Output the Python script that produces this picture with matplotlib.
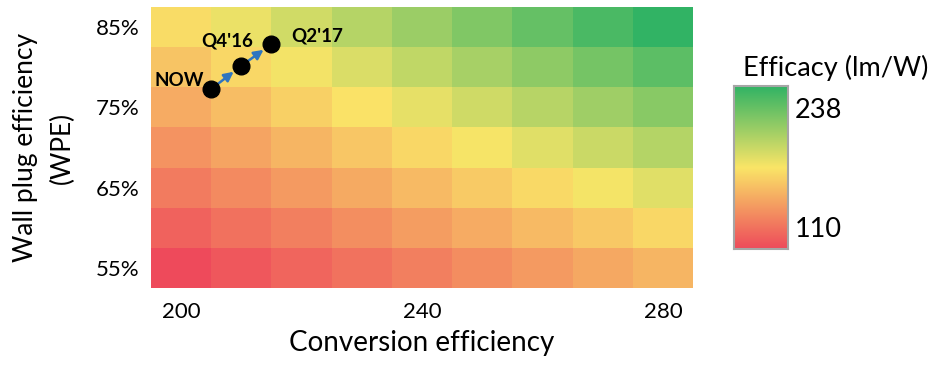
import numpy as np
import matplotlib
matplotlib.use("Agg")
import matplotlib.pyplot as plt
from matplotlib.colors import LinearSegmentedColormap, Normalize

# ── data ──────────────────────────────────────────────────────────────────
conversion = [200, 210, 220, 230, 240, 250, 260, 270, 280]   # lm/W (optical)
wpe = [55, 60, 65, 70, 75, 80, 85]                          # wall plug eff. %

# roadmap points: (conversion, WPE %)
milestones = ["NOW", "Q4'16", "Q2'17"]
ms_conv = [205, 210, 215]
ms_wpe = [77.3, 80.2, 82.9]

efficacy = np.outer(np.array(wpe) / 100.0, np.array(conversion))  # rows = WPE
eff_min, eff_max = 110, 238

# ── style ─────────────────────────────────────────────────────────────────
plt.rcParams["font.family"] = ["Lato", "DejaVu Sans"]
cmap = LinearSegmentedColormap.from_list(
    "ryg", [(0.0, "#EE4A5B"), (0.5, "#FAE567"), (1.0, "#31B364")])
norm = Normalize(eff_min, eff_max)

fig = plt.figure(figsize=(9.35, 3.66), dpi=100)
ax = fig.add_axes([0.1615, 0.214, 0.5797, 0.766])

ax.pcolormesh(conversion, wpe, efficacy, cmap=cmap, norm=norm,
              shading="nearest", edgecolors="face", linewidth=0)
ax.set_xlim(195, 285)
ax.set_ylim(52.5, 87.5)

ax.set_xticks([200, 240, 280])
ax.set_yticks([55, 65, 75, 85])
ax.set_yticklabels([f"{v}%" for v in [55, 65, 75, 85]])
ax.tick_params(length=0, labelsize=16)
ax.tick_params(axis="x", pad=10)
ax.tick_params(axis="y", pad=8)
for s in ax.spines.values():
    s.set_visible(False)

ax.set_xlabel("Conversion efficiency", fontsize=20, labelpad=6)
ax.set_ylabel("Wall plug efficiency\n(WPE)", fontsize=19, labelpad=15,
              linespacing=1.6)

# roadmap arrows and markers
for i in range(len(milestones) - 1):
    ax.annotate("", xy=(ms_conv[i + 1], ms_wpe[i + 1]),
                xytext=(ms_conv[i], ms_wpe[i]),
                arrowprops=dict(arrowstyle="-|>", color="#2F75C0", lw=1.8,
                                mutation_scale=14, shrinkA=0, shrinkB=7),
                zorder=3)
ax.plot(ms_conv, ms_wpe, "o", color="black", markersize=12, zorder=4)

label_kw = dict(fontsize=13.5, fontweight="bold", color="black", zorder=5)
ax.annotate(milestones[0], (ms_conv[0], ms_wpe[0]), xytext=(-5, 6),
            textcoords="offset points", ha="right", va="center", **label_kw)
ax.annotate(milestones[1], (ms_conv[1], ms_wpe[1]), xytext=(-10, 18),
            textcoords="offset points", ha="center", va="center", **label_kw)
ax.annotate(milestones[2], (ms_conv[2], ms_wpe[2]), xytext=(14, 6),
            textcoords="offset points", ha="left", va="center", **label_kw)

# colour key
cax = fig.add_axes([0.785, 0.3197, 0.0578, 0.445])
grad = np.linspace(eff_min, eff_max, 256).reshape(-1, 1)
cax.imshow(grad, cmap=cmap, norm=norm, aspect="auto", origin="lower",
           extent=[0, 1, 0, 1])
cax.set_xticks([])
cax.set_yticks([])
for s in cax.spines.values():
    s.set_color("#A6A6A6")
    s.set_linewidth(1.5)
cax.text(1.12, 0.85, str(eff_max), transform=cax.transAxes, fontsize=19.5,
         ha="left", va="center")
cax.text(1.12, 0.12, str(eff_min), transform=cax.transAxes, fontsize=19.5,
         ha="left", va="center")
fig.text(0.894, 0.815, "Efficacy (lm/W)", fontsize=19.5, ha="center",
         va="center")

fig.savefig("out.png", dpi=100)
